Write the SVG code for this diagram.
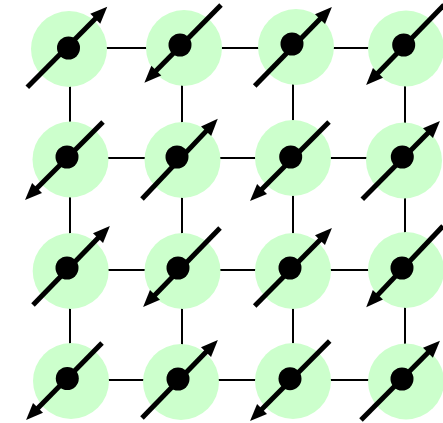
<svg xmlns="http://www.w3.org/2000/svg" width="443" height="423" viewBox="0 0 443 423">
<style>
.bg{fill:#ffffff}
.edge{stroke:#000;stroke-width:2;fill:none}
.site{fill:#ccffcc}
.dot{fill:#000}
.spin{stroke:#000;stroke-width:5;fill:none;marker-end:url(#ah)}
</style>
<defs>
<marker id="ah" markerUnits="userSpaceOnUse" markerWidth="18" markerHeight="14" refX="7" refY="7" orient="auto" overflow="visible"><path d="M0,0 L17,7 L0,14 z" fill="#000"/></marker>
</defs>
<rect class="bg" x="0" y="0" width="443" height="423"/>
<g id="connectors">
<line class="edge" x1="70" y1="48" x2="405" y2="48"/>
<line class="edge" x1="70" y1="158" x2="405" y2="158"/>
<line class="edge" x1="70" y1="270" x2="405" y2="270"/>
<line class="edge" x1="70" y1="380" x2="405" y2="380"/>
<line class="edge" x1="70" y1="48" x2="70" y2="380"/>
<line class="edge" x1="182" y1="48" x2="182" y2="380"/>
<line class="edge" x1="293" y1="48" x2="293" y2="380"/>
<line class="edge" x1="405" y1="48" x2="405" y2="380"/>
</g>
<g id="site-0-0"><circle class="site" cx="69" cy="49" r="38"/><circle class="dot" cx="68.5" cy="48" r="11.5"/><line class="spin" x1="27.3" y1="87.3" x2="100.2" y2="13.8"/></g>
<g id="site-0-1"><circle class="site" cx="184" cy="48" r="38"/><circle class="dot" cx="180" cy="45" r="11.5"/><line class="spin" x1="221" y1="5" x2="151.4" y2="75.6"/></g>
<g id="site-0-2"><circle class="site" cx="296" cy="47" r="38"/><circle class="dot" cx="292" cy="44" r="11.5"/><line class="spin" x1="254.7" y1="86" x2="324.9" y2="14.1"/></g>
<g id="site-0-3"><circle class="site" cx="406" cy="48.5" r="38"/><circle class="dot" cx="403.7" cy="45" r="11.5"/><line class="spin" x1="444" y1="5" x2="373.1" y2="77.9"/></g>
<g id="site-1-0"><circle class="site" cx="70.5" cy="159.5" r="38"/><circle class="dot" cx="67" cy="157" r="11.5"/><line class="spin" x1="103" y1="122" x2="32.1" y2="192.9"/></g>
<g id="site-1-1"><circle class="site" cx="182.5" cy="160" r="38"/><circle class="dot" cx="177" cy="157" r="11.5"/><line class="spin" x1="142" y1="199" x2="210.9" y2="126.1"/></g>
<g id="site-1-2"><circle class="site" cx="293" cy="158" r="38"/><circle class="dot" cx="290.7" cy="157" r="11.5"/><line class="spin" x1="329" y1="122" x2="257.1" y2="193.9"/></g>
<g id="site-1-3"><circle class="site" cx="404" cy="160.5" r="38"/><circle class="dot" cx="402.3" cy="157" r="11.5"/><line class="spin" x1="362.3" y1="199.3" x2="432.9" y2="128.1"/></g>
<g id="site-2-0"><circle class="site" cx="70.7" cy="271" r="38"/><circle class="dot" cx="67" cy="268" r="11.5"/><line class="spin" x1="33" y1="305" x2="102.9" y2="233.1"/></g>
<g id="site-2-1"><circle class="site" cx="182.5" cy="271" r="38"/><circle class="dot" cx="178" cy="268" r="11.5"/><line class="spin" x1="220" y1="228" x2="150.1" y2="299.9"/></g>
<g id="site-2-2"><circle class="site" cx="293" cy="271" r="38"/><circle class="dot" cx="290" cy="268" r="11.5"/><line class="spin" x1="254.7" y1="306" x2="324.9" y2="235.1"/></g>
<g id="site-2-3"><circle class="site" cx="406" cy="270" r="38"/><circle class="dot" cx="402" cy="268" r="11.5"/><line class="spin" x1="443" y1="226" x2="373.1" y2="299.9"/></g>
<g id="site-3-0"><circle class="site" cx="71" cy="381" r="38"/><circle class="dot" cx="67.3" cy="378.5" r="11.5"/><line class="spin" x1="102" y1="343" x2="33.1" y2="412.9"/></g>
<g id="site-3-1"><circle class="site" cx="181" cy="382" r="38"/><circle class="dot" cx="178" cy="379" r="11.5"/><line class="spin" x1="142" y1="418" x2="210.9" y2="347.1"/></g>
<g id="site-3-2"><circle class="site" cx="293" cy="381" r="38"/><circle class="dot" cx="290" cy="378.7" r="11.5"/><line class="spin" x1="329.7" y1="341" x2="257.1" y2="413.9"/></g>
<g id="site-3-3"><circle class="site" cx="406" cy="381.5" r="38"/><circle class="dot" cx="402" cy="379" r="11.5"/><line class="spin" x1="361" y1="420" x2="432.9" y2="347.8"/></g>
</svg>
